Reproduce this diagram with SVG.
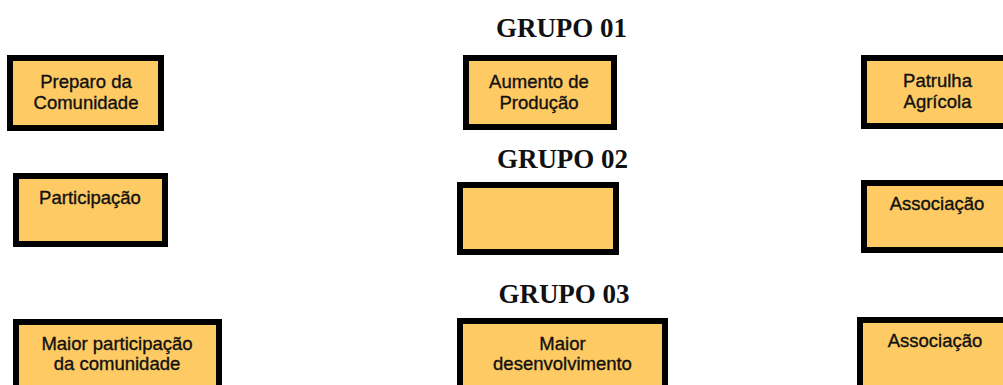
<svg xmlns="http://www.w3.org/2000/svg" width="1003" height="385" viewBox="0 0 1003 385">
<style>
.box{fill:#FECA63;stroke:#000;stroke-width:6}
.t{font-family:"Liberation Sans",Arial,sans-serif;font-size:18.5px;fill:#111;stroke:#111;stroke-width:0.35;text-anchor:middle}
.h{font-family:"Liberation Serif","Times New Roman",serif;font-weight:bold;font-size:27px;fill:#111;text-anchor:middle}
</style>
<rect width="1003" height="385" fill="#fff"/>
<g id="headers">
<text class="h" x="561.5" y="37">GRUPO 01</text>
<text class="h" x="562.5" y="168">GRUPO 02</text>
<text class="h" x="564" y="303">GRUPO 03</text>
</g>
<g id="connectors"></g>
<g id="n1"><rect class="box" x="10" y="58" width="151" height="70"/><text class="t" x="86" y="88">Preparo da</text><text class="t" x="86" y="109">Comunidade</text></g>
<g id="n2"><rect class="box" x="466" y="58" width="148" height="69"/><text class="t" x="539" y="88">Aumento de</text><text class="t" x="539" y="109">Produção</text></g>
<g id="n3"><rect class="box" x="864" y="58" width="155" height="68"/><text class="t" x="937.5" y="87">Patrulha</text><text class="t" x="937.5" y="108">Agrícola</text></g>
<g id="n4"><rect class="box" x="16" y="176" width="149" height="68"/><text class="t" x="90" y="204">Participação</text></g>
<g id="n5"><rect class="box" x="460" y="185" width="156" height="67"/></g>
<g id="n6"><rect class="box" x="864" y="183" width="155" height="67"/><text class="t" x="937" y="210">Associação</text></g>
<g id="n7"><rect class="box" x="16" y="322" width="203" height="80"/><text class="t" x="117" y="350">Maior participação</text><text class="t" x="117" y="370">da comunidade</text></g>
<g id="n8"><rect class="box" x="460" y="321" width="205" height="80"/><text class="t" x="562.5" y="350">Maior</text><text class="t" x="562.5" y="370">desenvolvimento</text></g>
<g id="n9"><rect class="box" x="860" y="320" width="160" height="80"/><text class="t" x="935" y="347">Associação</text></g>
</svg>
